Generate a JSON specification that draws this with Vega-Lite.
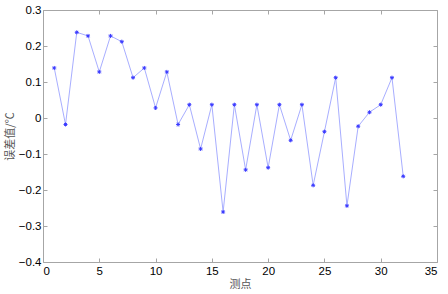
{
  "$schema": "https://vega.github.io/schema/vega-lite/v6.json",
  "width": 394,
  "height": 252,
  "autosize": "none",
  "padding": {"left": 43, "top": 10, "right": 11, "bottom": 32},
  "background": "white",
  "config": {
    "view": {"stroke": "#a6a6a6", "strokeWidth": 1},
    "axis": {
      "grid": false,
      "domain": false,
      "tickColor": "#a6a6a6",
      "tickSize": 4,
      "offset": -4,
      "labelFont": "Liberation Sans",
      "labelFontSize": 11.5,
      "labelColor": "#000000",
      "titleFont": "Noto Sans CJK SC",
      "titleFontSize": 11,
      "titleFontWeight": "normal",
      "titleColor": "#555555"
    }
  },
  "data": {
    "values": [
      {"p": 1, "e": 0.139}, {"p": 2, "e": -0.018}, {"p": 3, "e": 0.238}, {"p": 4, "e": 0.228},
      {"p": 5, "e": 0.128}, {"p": 6, "e": 0.228}, {"p": 7, "e": 0.212}, {"p": 8, "e": 0.112},
      {"p": 9, "e": 0.139}, {"p": 10, "e": 0.028}, {"p": 11, "e": 0.128}, {"p": 12, "e": -0.018},
      {"p": 13, "e": 0.037}, {"p": 14, "e": -0.086}, {"p": 15, "e": 0.037}, {"p": 16, "e": -0.261},
      {"p": 17, "e": 0.037}, {"p": 18, "e": -0.144}, {"p": 19, "e": 0.037}, {"p": 20, "e": -0.138},
      {"p": 21, "e": 0.037}, {"p": 22, "e": -0.062}, {"p": 23, "e": 0.037}, {"p": 24, "e": -0.187},
      {"p": 25, "e": -0.038}, {"p": 26, "e": 0.112}, {"p": 27, "e": -0.244}, {"p": 28, "e": -0.023},
      {"p": 29, "e": 0.016}, {"p": 30, "e": 0.037}, {"p": 31, "e": 0.112}, {"p": 32, "e": -0.162}
    ]
  },
  "layer": [
    {
      "mark": {"type": "line", "color": "#a8aeff", "strokeWidth": 1},
      "encoding": {
        "x": {"field": "p", "type": "quantitative", "scale": {"domain": [0, 35], "nice": false, "zero": false},
              "axis": {"orient": "bottom", "values": [0, 5, 10, 15, 20, 25, 30, 35], "title": "测点", "labelPadding": 3, "titlePadding": 2}},
        "y": {"field": "e", "type": "quantitative", "scale": {"domain": [-0.4, 0.3], "nice": false, "zero": false},
              "axis": {"orient": "left", "values": [-0.4, -0.3, -0.2, -0.1, 0, 0.1, 0.2, 0.3], "format": "~g", "title": "误差值/℃", "labelPadding": 2, "titlePadding": 3}}
      }
    },
    {
      "mark": {"type": "point", "shape": "M-1,0L1,0M0,-1L0,1M-0.7,-0.7L0.7,0.7M-0.7,0.7L0.7,-0.7", "filled": false, "color": "#3a3aff", "size": 16, "strokeWidth": 1, "opacity": 1},
      "encoding": {
        "x": {"field": "p", "type": "quantitative", "axis": {"orient": "top", "values": [0, 5, 10, 15, 20, 25, 30, 35], "labels": false, "title": null}},
        "y": {"field": "e", "type": "quantitative", "axis": {"orient": "right", "values": [-0.4, -0.3, -0.2, -0.1, 0, 0.1, 0.2, 0.3], "labels": false, "title": null}}
      }
    }
  ],
  "resolve": {"axis": {"x": "independent", "y": "independent"}}
}
